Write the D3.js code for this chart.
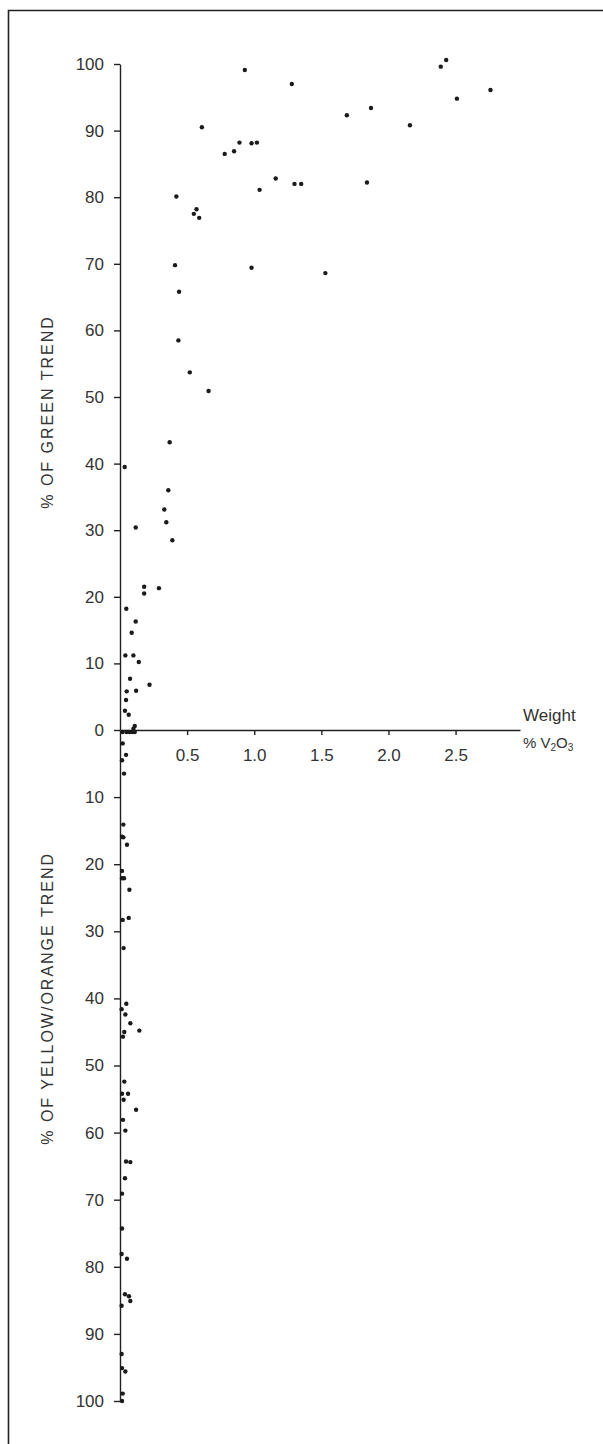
<!DOCTYPE html>
<html>
<head>
<meta charset="utf-8">
<script src="https://cdn.jsdelivr.net/npm/d3@7"></script>
<style>
  body { margin: 0; background: #fff; }
  svg { display: block; font-family: 'Liberation Sans', Arial, sans-serif; }
  .axis text { font-size: 17px; fill: #333; }
  .axis line, .axis path { stroke: #222; stroke-width: 1.4; }
  .title { font-size: 16px; fill: #333; letter-spacing: 2px; }
</style>
</head>
<body>
<svg width="603" height="1444"></svg>
<script>
// % of green trend (upper half) vs weight % V2O3
const greenWeight = [0.93, 1.28, 1.69, 0.61, 0.78, 0.85, 0.89, 0.98, 1.02, 1.16, 1.30, 1.35, 1.04,
  0.42, 0.57, 0.55, 0.59, 0.41, 0.98, 1.53, 0.44, 0.435, 2.43, 2.39, 2.76, 2.51, 1.87, 2.16, 1.84,
  0.52, 0.66, 0.37, 0.035, 0.36, 0.33, 0.345, 0.117, 0.39, 0.18, 0.18, 0.29, 0.047, 0.117, 0.087,
  0.04, 0.10, 0.14, 0.075, 0.22, 0.05, 0.12, 0.045, 0.037, 0.065, 0.11, 0.10];
const greenPct = [99.1, 97.0, 92.3, 90.5, 86.5, 86.9, 88.2, 88.1, 88.2, 82.8, 82.0, 82.0, 81.1,
  80.1, 78.2, 77.5, 76.9, 69.8, 69.4, 68.6, 65.8, 58.5, 100.6, 99.6, 96.1, 94.8, 93.4, 90.8, 82.2,
  53.7, 50.9, 43.2, 39.5, 36.0, 33.1, 31.2, 30.4, 28.5, 21.5, 20.5, 21.3, 18.2, 16.3, 14.6,
  11.2, 11.2, 10.2, 7.7, 6.8, 5.8, 5.9, 4.5, 2.9, 2.3, 0.6, 0.2];

// % of yellow/orange trend (lower half)
const yellowWeight = [0.02, 0.05, 0.07, 0.09, 0.11, 0.02, 0.045, 0.015, 0.03, 0.025, 0.015, 0.025,
  0.052, 0.015, 0.015, 0.03, 0.07, 0.02, 0.065, 0.027, 0.047, 0.012, 0.04, 0.077, 0.144, 0.032,
  0.022, 0.032, 0.015, 0.06, 0.027, 0.12, 0.022, 0.04, 0.045, 0.077, 0.037, 0.015, 0.015, 0.012,
  0.052, 0.037, 0.067, 0.077, 0.012, 0.012, 0.015, 0.04, 0.02, 0.015];
const yellowPct = [0.3, 0.3, 0.3, 0.3, 0.3, 2.0, 3.7, 4.5, 6.5, 14.1, 15.9, 16.0,
  17.1, 21.0, 22.1, 22.1, 23.8, 28.3, 28.0, 32.5, 40.8, 41.6, 42.4, 43.7, 44.8, 45.0,
  45.7, 52.4, 54.2, 54.2, 55.1, 56.6, 58.1, 59.7, 64.3, 64.4, 66.8, 69.1, 74.3, 78.1,
  78.8, 84.1, 84.4, 85.1, 85.8, 93.0, 95.1, 95.6, 98.9, 100];

const xTicks = [0.5, 1.0, 1.5, 2.0, 2.5];
const greenTicks = [0, 10, 20, 30, 40, 50, 60, 70, 80, 90, 100];
const yellowTicks = [10, 20, 30, 40, 50, 60, 70, 80, 90, 100];

const svg = d3.select('svg');

// frame (top and left edges only)
svg.append('path')
  .attr('d', 'M8.5,1444 V10.5 H603')
  .attr('fill', 'none')
  .attr('stroke', '#222')
  .attr('stroke-width', 1.6);

const x = d3.scaleLinear().domain([0, 2.98]).range([120, 520]);
const yUp = d3.scaleLinear().domain([0, 100]).range([730, 64]);
const yDown = d3.scaleLinear().domain([0, 100]).range([730, 1401]);

svg.append('g')
  .attr('class', 'axis')
  .attr('transform', `translate(120, 0)`)
  .call(d3.axisLeft(yUp).tickValues(greenTicks).tickSize(6).tickSizeOuter(0).tickPadding(10)
    .tickFormat(d3.format('d')));

svg.append('g')
  .attr('class', 'axis')
  .attr('transform', `translate(120, 0)`)
  .call(d3.axisLeft(yDown).tickValues(yellowTicks).tickSize(6).tickSizeOuter(0).tickPadding(10)
    .tickFormat(d3.format('d')));

svg.append('g')
  .attr('class', 'axis')
  .attr('transform', `translate(0, 730)`)
  .call(d3.axisBottom(x).tickValues(xTicks).tickSize(5).tickSizeOuter(0).tickPadding(14)
    .tickFormat(d3.format('.1f')));

// axis titles
svg.append('text')
  .attr('class', 'title')
  .attr('transform', `translate(53, 412) rotate(-90)`)
  .attr('text-anchor', 'middle')
  .text('% OF GREEN TREND');

svg.append('text')
  .attr('class', 'title')
  .attr('transform', `translate(53, ${yDown(40)}) rotate(-90)`)
  .attr('text-anchor', 'middle')
  .text('% OF YELLOW/ORANGE TREND');

svg.append('text')
  .attr('x', 523).attr('y', 721)
  .style('font-size', '17px').style('fill', '#333')
  .text('Weight');

const v = svg.append('text')
  .attr('x', 523).attr('y', 748)
  .style('font-size', '15px').style('fill', '#333');
v.append('tspan').text('% V');
v.append('tspan').attr('dy', 3).style('font-size', '10px').text('2');
v.append('tspan').attr('dy', -3).text('O');
v.append('tspan').attr('dy', 3).style('font-size', '10px').text('3');

// points
svg.append('g')
  .selectAll('circle')
  .data(d3.zip(greenWeight, greenPct))
  .enter()
  .append('circle')
  .attr('cx', (d) => x(d[0]))
  .attr('cy', (d) => yUp(d[1]))
  .attr('r', 2.2)
  .attr('fill', '#1a1a1a');

svg.append('g')
  .selectAll('circle')
  .data(d3.zip(yellowWeight, yellowPct))
  .enter()
  .append('circle')
  .attr('cx', (d) => x(d[0]))
  .attr('cy', (d) => yDown(d[1]))
  .attr('r', 2.2)
  .attr('fill', '#1a1a1a');
</script>
</body>
</html>
